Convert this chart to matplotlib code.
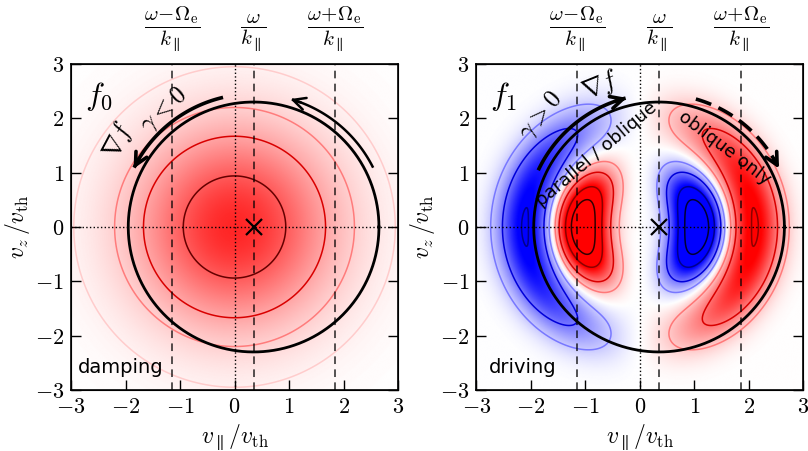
import numpy as np
import matplotlib
matplotlib.use('Agg')
import matplotlib.pyplot as plt

plt.rcParams['mathtext.fontset'] = 'cm'
plt.rcParams['font.family'] = ['DejaVu Sans']

# ---- data ----
ticks = [-3, -2, -1, 0, 1, 2, 3]
tick_labels = [r'$-3$', r'$-2$', r'$-1$', r'$0$', r'$1$', r'$2$', r'$3$']
v_res = [-1.15, 0.35, 1.85]          # (w-W)/k, w/k, (w+W)/k
res_labels = [r'$\dfrac{\omega\!-\!\Omega_\mathrm{e}}{k_\parallel}$',
              r'$\dfrac{\omega}{k_\parallel}$',
              r'$\dfrac{\omega\!+\!\Omega_\mathrm{e}}{k_\parallel}$']
v_phase = 0.35                       # circle centre / cross
circ_r = 2.3

# f0 : maxwellian, contour radii
f0_width = 3.2
f0_amp = 0.85
f0_rad = [2.95, 2.2, 1.67, 0.94]
f0_cols = [(1, 0, 0, 0.15), (1, 0, 0, 0.4), (0.85, 0, 0, 1), (0.4, 0, 0, 1)]

# f1 : inner / outer lobes  (amp, radius, width, angular power)
f1_inner = (1.1, 1.05, 0.45, 2.0)
f1_outer = (0.615, 2.1, 0.5, 1.2)
f1_levels = [0.12, 0.3, 0.6, 0.85]
red_cols = [(1, 0, 0, 0.4), (0.85, 0, 0, 1), (0.55, 0, 0, 1), (0.2, 0, 0, 1)]
blue_cols = [(0, 0, 1, 0.4), (0, 0, 0.85, 1), (0, 0, 0.55, 1), (0, 0, 0.2, 1)]

# arrows: (radius, start angle, end angle, linewidth, dashed)
arrows_left = [(2.45, 104, 154, 2.6, False), (2.45, 27, 74, 1.8, False)]
arrows_right = [(2.45, 154, 104, 2.6, False), (2.45, 74, 26, 2.6, True)]

# ---- fields ----
g = np.linspace(-3, 3, 500)
X, Y = np.meshgrid(g, g)
R = np.sqrt(X**2 + Y**2) + 1e-9
F0 = f0_amp*np.exp(-R**2/f0_width)
C = X/R


def lobe(p):
    amp, r0, w, pw = p
    return np.sign(C)*np.abs(C)**pw * amp*np.exp(-((R-r0)/w)**2)


F1 = -(lobe(f1_inner) - lobe(f1_outer))


def arc_arrow(ax, r, a0, a1, lw, dashed):
    t = np.radians(np.linspace(a0, a1, 80))
    xs = v_phase + r*np.cos(t)
    ys = r*np.sin(t)
    if dashed:
        ax.plot(xs[:-4], ys[:-4], 'k', lw=lw, dashes=(4.5, 2.2), solid_capstyle='butt')
    else:
        ax.plot(xs[:-2], ys[:-2], 'k', lw=lw)
    ax.annotate('', xy=(xs[-1], ys[-1]), xytext=(xs[-9], ys[-9]),
                arrowprops=dict(arrowstyle='->', lw=lw, color='k',
                                mutation_scale=22, shrinkA=0, shrinkB=0))


def setup(ax):
    ax.set_xlim(-3, 3)
    ax.set_ylim(-3, 3)
    ax.set_xticks(ticks)
    ax.set_yticks(ticks)
    ax.set_xticklabels(tick_labels, fontsize=16)
    ax.set_yticklabels(tick_labels, fontsize=16)
    ax.tick_params(direction='in', top=True, right=True, length=7, width=1, pad=5)
    for s in ax.spines.values():
        s.set_linewidth(1.2)
    ax.axvline(0, color='k', ls=':', lw=1)
    ax.axhline(0, color='k', ls=':', lw=1)
    for v in v_res:
        ax.axvline(v, color='k', lw=1.1, dashes=(5, 3.5), alpha=0.85)
    th = np.linspace(0, 2*np.pi, 300)
    ax.plot(v_phase + circ_r*np.cos(th), circ_r*np.sin(th), 'k', lw=2)
    ax.plot([v_phase], [0], 'kx', ms=11, mew=1.6)
    ax.set_xlabel(r'$v_\parallel/v_\mathrm{th}$', fontsize=17, labelpad=4)
    ax.set_ylabel(r'$v_z\,/v_\mathrm{th}$', fontsize=17, labelpad=2)
    top = ax.twiny()
    top.set_xlim(-3, 3)
    top.set_xticks(v_res)
    top.set_xticklabels(res_labels, fontsize=15)
    top.tick_params(length=0, pad=7)


fig = plt.figure(figsize=(8.08, 4.51), dpi=100)
ax0 = fig.add_axes([0.0879, 0.1353, 0.4047, 0.7228])
ax1 = fig.add_axes([0.5897, 0.1353, 0.4047, 0.7228])

# left: f0
ax0.imshow(F0, extent=[-3, 3, -3, 3], origin='lower', cmap='bwr',
           vmin=-1, vmax=1, interpolation='bilinear', aspect='auto')
lev0 = [f0_amp*np.exp(-r**2/f0_width) for r in f0_rad]
ax0.contour(X, Y, F0, levels=lev0, colors=f0_cols, linewidths=1.1)
setup(ax0)
for a in arrows_left:
    arc_arrow(ax0, *a)
ax0.text(-2.75, 2.4, r'$f_0$', fontsize=23, va='center')
ax0.text(-2.13, 1.6, r'$\nabla f$', fontsize=19, rotation=62, ha='center', va='center')
ax0.text(-1.3, 2.15, r'$\gamma<0$', fontsize=18, rotation=42, ha='center', va='center')
ax0.text(-2.88, -2.68, 'damping', fontsize=14, va='baseline')

# right: f1
ax1.imshow(F1, extent=[-3, 3, -3, 3], origin='lower', cmap='bwr',
           vmin=-0.57, vmax=0.57, interpolation='bilinear', aspect='auto')
lev1 = [-l for l in f1_levels[::-1]] + f1_levels
ax1.contour(X, Y, F1, levels=lev1, colors=blue_cols[::-1] + red_cols, linewidths=1.1)
setup(ax1)
for a in arrows_right:
    arc_arrow(ax1, *a)
ax1.text(-2.75, 2.4, r'$f_1$', fontsize=23, va='center')
ax1.text(-0.72, 2.6, r'$\nabla f$', fontsize=19, rotation=22, ha='center', va='center')
ax1.text(-1.82, 2.05, r'$\gamma>0$', fontsize=18, rotation=50, ha='center', va='center')
ax1.text(-0.8, 1.33, 'parallel / oblique', fontsize=13, rotation=40, ha='center', va='center')
ax1.text(1.55, 1.45, 'oblique only', fontsize=13, rotation=-37, ha='center', va='center')
ax1.text(-2.77, -2.68, 'driving', fontsize=14, va='baseline')

fig.savefig('out.png', dpi=100)
